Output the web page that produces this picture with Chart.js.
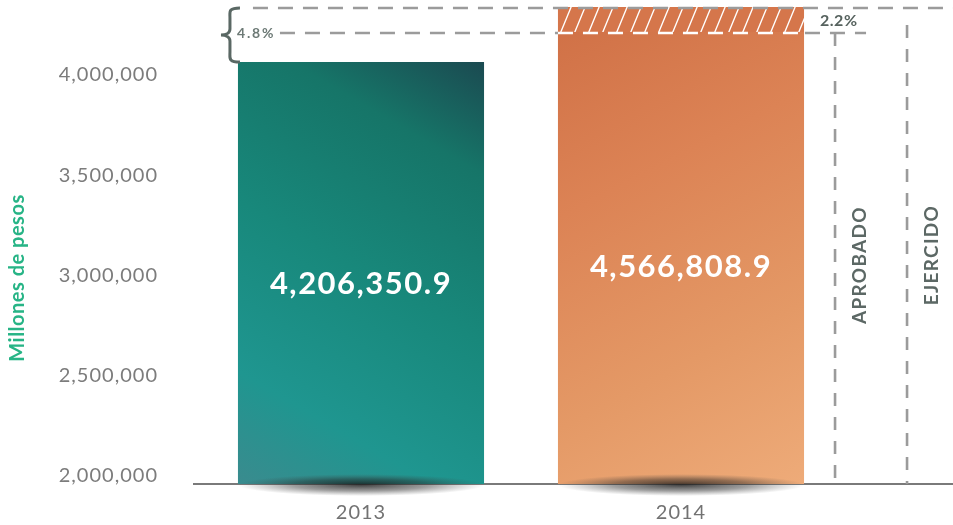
<!DOCTYPE html>
<html>
<head>
<meta charset="utf-8">
<script src="https://cdn.jsdelivr.net/npm/chart.js@4"></script>
<style>
  html, body { margin: 0; padding: 0; background: #fff; }
  canvas { display: block; }
</style>
</head>
<body>
<canvas id="budgetChart" width="953" height="525"></canvas>
<script>
// Values (bar heights follow the drawn scale)
const categories = ['2013', '2014'];
const baseValues = [4064800, 4214400];
const hatchValues = [0, 124700];
const valueLabels = ['4,206,350.9', '4,566,808.9'];
const yTicks = [2000000, 2500000, 3000000, 3500000, 4000000];
const pctLabels = ['4.8%', '2.2%'];
const markerLabels = ['APROBADO', 'EJERCIDO'];
const yTitle = 'Millones de pesos';

const FONT = 'Lato, "Open Sans", sans-serif';
const DASH_GREY = '#9b9b9b';

function tealGradient(ctx, x0, y0, x1, y1) {
  const g = ctx.createLinearGradient(x1, y0, x0, y1);
  g.addColorStop(0, '#1b4a51');
  g.addColorStop(0.2, '#167568');
  g.addColorStop(0.5, '#18887b');
  g.addColorStop(0.8, '#1f9690');
  g.addColorStop(1, '#3a8b8e');
  return g;
}

function orangeGradient(ctx, x0, y0, x1, y1) {
  const g = ctx.createLinearGradient(x0, y0, x1, y1);
  g.addColorStop(0, '#cf6f45');
  g.addColorStop(0.35, '#dc8355');
  g.addColorStop(0.7, '#e49966');
  g.addColorStop(1, '#eeab79');
  return g;
}

function hatchPattern(ctx) {
  const c = document.createElement('canvas');
  c.width = 14; c.height = 34;
  const p = c.getContext('2d');
  p.fillStyle = '#d5764b';
  p.fillRect(0, 0, 14, 34);
  p.strokeStyle = '#ffffff';
  p.lineWidth = 1.4;
  [-14, 0, 14].forEach(off => {
    p.beginPath();
    p.moveTo(off, 34);
    p.lineTo(off + 14, 0);
    p.stroke();
  });
  return ctx.createPattern(c, 'repeat');
}

function barFill(context) {
  const chart = context.chart;
  const { ctx, chartArea, scales } = chart;
  if (!chartArea) return '#1a8a7d';
  const i = context.dataIndex;
  const half = 123;
  const cx = scales.x.getPixelForValue(i);
  const top = scales.y.getPixelForValue(baseValues[i] + hatchValues[i]);
  return i === 0
    ? tealGradient(ctx, cx - half, top, cx + half, chartArea.bottom)
    : orangeGradient(ctx, cx - half, top, cx + half, chartArea.bottom);
}

function dashed(ctx, x0, y0, x1, y1, color, dash) {
  ctx.save();
  ctx.strokeStyle = color;
  ctx.lineWidth = 2.6;
  ctx.setLineDash(dash);
  ctx.beginPath();
  ctx.moveTo(x0, y0);
  ctx.lineTo(x1, y1);
  ctx.stroke();
  ctx.restore();
}

const decorations = {
  id: 'decorations',
  beforeDraw(chart) {
    // wider tracking for the axis labels
    chart.ctx.letterSpacing = '1px';
  },
  beforeDatasetsDraw(chart) {
    const { ctx, chartArea, scales } = chart;
    ctx.letterSpacing = '0px';
    const bars = chart.getDatasetMeta(0).data;
    const left0 = bars[0].x - bars[0].width / 2;
    const right1 = bars[1].x + bars[1].width / 2;
    const midY = scales.y.getPixelForValue(baseValues[1]) + 1;

    // axis line
    ctx.save();
    ctx.strokeStyle = '#7a7a7a';
    ctx.lineWidth = 2;
    ctx.beginPath();
    ctx.moveTo(chartArea.left - 8, chartArea.bottom);
    ctx.lineTo(chart.width, chartArea.bottom);
    ctx.stroke();
    ctx.restore();

    // lower reference line and vertical markers
    dashed(ctx, left0 + 42, midY, right1 + 62, midY, DASH_GREY, [15, 10]);
    dashed(ctx, right1 + 31, midY, right1 + 31, chartArea.bottom, DASH_GREY, [13, 11]);
    dashed(ctx, right1 + 103, midY - 8, right1 + 103, chartArea.bottom, DASH_GREY, [13, 11]);
  },
  afterDatasetsDraw(chart) {
    const { ctx, chartArea, scales } = chart;
    const bars = chart.getDatasetMeta(0).data;
    const left0 = bars[0].x - bars[0].width / 2;
    const left1 = bars[1].x - bars[1].width / 2;
    const right1 = bars[1].x + bars[1].width / 2;
    const topY = scales.y.getPixelForValue(baseValues[1] + hatchValues[1]) + 1;
    const midY = scales.y.getPixelForValue(baseValues[1]) + 1;
    const top0 = scales.y.getPixelForValue(baseValues[0]);

    // white dashes across the hatched bar, grey line on top
    dashed(ctx, left1, midY, right1, midY, '#ffffff', [15, 10]);
    dashed(ctx, left0 + 15, topY, chart.width, topY, DASH_GREY, [15, 10]);

    // brace
    ctx.save();
    ctx.strokeStyle = '#5a6864';
    ctx.lineWidth = 3;
    const bx = left0 - 8, by = (topY + top0) / 2;
    ctx.beginPath();
    ctx.moveTo(left0 + 2, topY);
    ctx.bezierCurveTo(bx - 2, topY, bx, topY + 4, bx, topY + 10);
    ctx.lineTo(bx, by - 6);
    ctx.bezierCurveTo(bx, by - 2, bx - 4, by, bx - 9, by);
    ctx.bezierCurveTo(bx - 4, by, bx, by + 2, bx, by + 6);
    ctx.lineTo(bx, top0 - 10);
    ctx.bezierCurveTo(bx, top0 - 4, bx - 2, top0, left0 + 2, top0);
    ctx.stroke();
    ctx.restore();

    // bar bottom shadows
    bars.forEach(bar => {
      const cx = bar.x, cy = chartArea.bottom + 1;
      const rx = bar.width * 0.5, ry = 11;
      ctx.save();
      ctx.translate(cx, cy);
      ctx.scale(1, ry / rx);
      const g = ctx.createRadialGradient(0, 0, 0, 0, 0, rx);
      g.addColorStop(0, 'rgba(20,20,20,0.8)');
      g.addColorStop(0.55, 'rgba(40,40,40,0.45)');
      g.addColorStop(1, 'rgba(70,70,70,0)');
      ctx.fillStyle = g;
      ctx.beginPath();
      ctx.arc(0, 0, rx, 0, Math.PI * 2);
      ctx.fill();
      ctx.restore();
    });

    // value labels inside the bars
    const labelAt = [2958000, 3043000];
    ctx.save();
    ctx.fillStyle = '#ffffff';
    ctx.font = 'bold 31px ' + FONT;
    ctx.letterSpacing = '1.5px';
    ctx.textAlign = 'center';
    ctx.textBaseline = 'middle';
    bars.forEach((bar, i) => {
      ctx.fillText(valueLabels[i], bar.x, scales.y.getPixelForValue(labelAt[i]));
    });
    ctx.restore();

    // percentages
    ctx.save();
    ctx.textBaseline = 'middle';
    ctx.font = 'bold 14px ' + FONT;
    ctx.letterSpacing = '1.8px';
    ctx.fillStyle = '#6d7a76';
    ctx.textAlign = 'left';
    ctx.fillText(pctLabels[0], left0 - 1, midY);
    ctx.font = 'bold 16px ' + FONT;
    ctx.letterSpacing = '0.5px';
    ctx.fillStyle = '#56625e';
    ctx.fillText(pctLabels[1], right1 + 16, (topY + midY) / 2 + 0.5);
    ctx.restore();

    // rotated markers
    const markerX = [right1 + 56, right1 + 128];
    const markerY = [265, 255];
    ctx.save();
    ctx.font = 'bold 19px ' + FONT;
    ctx.letterSpacing = '1.3px';
    ctx.fillStyle = '#5c6865';
    ctx.textAlign = 'center';
    ctx.textBaseline = 'middle';
    markerLabels.forEach((t, i) => {
      ctx.save();
      ctx.translate(markerX[i], markerY[i]);
      ctx.rotate(-Math.PI / 2);
      ctx.fillText(t, 0, 0);
      ctx.restore();
    });
    ctx.restore();

    // y axis title
    ctx.save();
    ctx.font = 'bold 20px ' + FONT;
    ctx.letterSpacing = '0.5px';
    ctx.fillStyle = '#27b486';
    ctx.textAlign = 'center';
    ctx.textBaseline = 'middle';
    ctx.translate(18, 278);
    ctx.rotate(-Math.PI / 2);
    ctx.fillText(yTitle, 0, 0);
    ctx.restore();
  }
};

const canvas = document.getElementById('budgetChart');
new Chart(canvas.getContext('2d'), {
  type: 'bar',
  data: {
    labels: categories,
    datasets: [
      {
        label: 'Ejercido',
        data: baseValues,
        backgroundColor: barFill,
        borderWidth: 0,
        barPercentage: 0.769,
        categoryPercentage: 1
      },
      {
        label: 'Aprobado',
        data: hatchValues,
        backgroundColor: hatchPattern(canvas.getContext('2d')),
        borderWidth: 0,
        barPercentage: 0.769,
        categoryPercentage: 1
      }
    ]
  },
  options: {
    responsive: false,
    animation: false,
    layout: { padding: { left: 0, right: 112, top: 0, bottom: 0 } },
    plugins: {
      legend: { display: false },
      tooltip: { enabled: false }
    },
    scales: {
      x: {
        stacked: true,
        grid: { display: false, drawTicks: false },
        border: { display: false },
        ticks: {
          padding: 17,
          color: '#727272',
          font: { family: FONT, size: 20 }
        },
        afterFit(scale) {
          scale.height = 41;
          scale.paddingLeft = 0;
          scale.paddingRight = 0;
        }
      },
      y: {
        stacked: true,
        min: 1960100,
        max: 4374000,
        grid: { display: false, drawTicks: false },
        border: { display: false },
        afterBuildTicks(scale) {
          scale.ticks = yTicks.map(v => ({ value: v }));
        },
        ticks: {
          padding: 43,
          color: '#7c7c7c',
          font: { family: FONT, size: 20 },
          callback: v => v.toLocaleString('en-US')
        },
        afterFit(scale) {
          scale.width = 201;
          scale.paddingTop = 0;
          scale.paddingBottom = 0;
        }
      }
    }
  },
  plugins: [decorations]
});
</script>
</body>
</html>
